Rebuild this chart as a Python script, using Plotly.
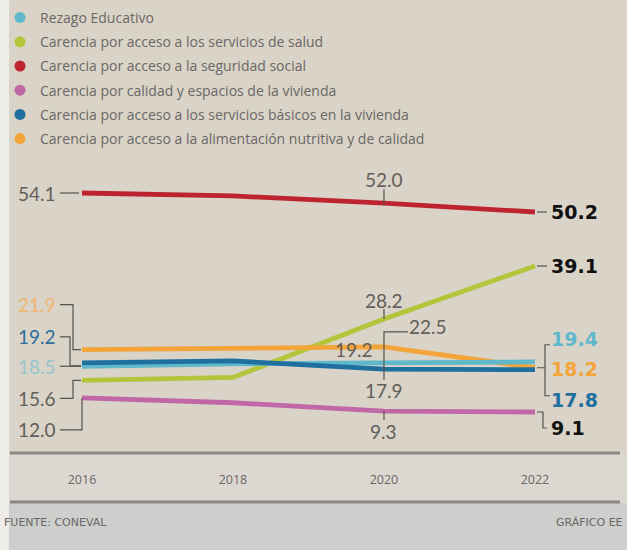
import plotly.graph_objects as go

years = [2016, 2018, 2020, 2022]
series_names = [
    "Rezago Educativo",
    "Carencia por acceso a los servicios de salud",
    "Carencia por acceso a la seguridad social",
    "Carencia por calidad y espacios de la vivienda",
    "Carencia por acceso a los servicios básicos en la vivienda",
    "Carencia por acceso a la alimentación nutritiva y de calidad",
]
rezago = [18.5, 19.0, 19.2, 19.4]
salud = [15.6, 16.2, 28.2, 39.1]
seguridad = [54.1, 53.5, 52.0, 50.2]
calidad = [12.0, 11.0, 9.3, 9.1]
basicos = [19.2, 19.6, 17.9, 17.8]
alimentacion = [21.9, 22.2, 22.5, 18.2]
tick_labels = ["2016", "2018", "2020", "2022"]

colors = ["#5fb9cb", "#b3c53a", "#be2430", "#c067a6", "#1f6f9f", "#f3a53a"]
values = [rezago, salud, seguridad, calidad, basicos, alimentacion]

BG = "#dad3c8"
GRAY = "#625e5a"
FONT = "Lato, 'DejaVu Sans', sans-serif"
WIDE = "'Open Sans', 'DejaVu Sans', sans-serif"
BOLDFONT = "'DejaVu Sans', sans-serif"

W, H = 627.0, 550.0
T, B = 150, 97
PLOT_BOTTOM = H - B

fig = go.Figure()

# draw order: back to front
order = [2, 3, 1, 5, 0, 4]
for i in order:
    fig.add_trace(go.Scatter(x=years, y=values[i], mode="lines",
                             line=dict(color=colors[i], width=4.8),
                             showlegend=False, hoverinfo="skip"))

# legend proxies (dots)
for i, name in enumerate(series_names):
    fig.add_trace(go.Scatter(x=[None], y=[None], mode="markers", name=name,
                             legendgroup=f"g{i}",
                             marker=dict(color=colors[i], size=11)))

ann = []
shapes = []


def label(x, y, text, color, xshift=0, yshift=0, xanchor="center", size=19, bold=False):
    ann.append(dict(x=x, y=y, xref="x", yref="y", text=(f"<b>{text}</b>" if bold else text),
                    showarrow=False, xanchor=xanchor, yanchor="middle",
                    xshift=xshift, yshift=yshift,
                    font=dict(family=(BOLDFONT if bold else FONT), size=size, color=color)))


def bracket(x, y, path):
    shapes.append(dict(type="path", xref="x", yref="y", xsizemode="pixel", ysizemode="pixel",
                       xanchor=x, yanchor=y, path=path,
                       line=dict(color="#55524e", width=1.2), layer="above"))


# 2016 labels (left)
x0 = years[0]
label(x0, seguridad[0], f"{seguridad[0]:.1f}", GRAY, xshift=-24, xanchor="right")
bracket(x0, seguridad[0], "M -22 0 H -3")
label(x0, alimentacion[0], f"{alimentacion[0]:.1f}", "#f0b56e", xshift=-24, yshift=45, xanchor="right")
bracket(x0, alimentacion[0], "M -22 45 H -9 V 0 H -1")
label(x0, basicos[0], f"{basicos[0]:.1f}", "#2d6d97", xshift=-24, yshift=26, xanchor="right")
bracket(x0, basicos[0], "M -22 26 H -12 V -3 H -1")
label(x0, rezago[0], f"{rezago[0]:.1f}", "#94c6cc", xshift=-24, yshift=0, xanchor="right")
bracket(x0, rezago[0], "M -22 0 H -1")
label(x0, salud[0], f"{salud[0]:.1f}", GRAY, xshift=-24, yshift=-18, xanchor="right")
bracket(x0, salud[0], "M -22 -18 H -9 V 0 H -1")
label(x0, calidad[0], f"{calidad[0]:.1f}", GRAY, xshift=-24, yshift=-32, xanchor="right")
bracket(x0, calidad[0], "M -22 -32 H 0 V 0")

# 2020 labels (middle)
x2 = years[2]
label(x2, seguridad[2], f"{seguridad[2]:.1f}", GRAY, yshift=24)
bracket(x2, seguridad[2], "M 0 14 V -2")
label(x2, salud[2], f"{salud[2]:.1f}", GRAY, yshift=19)
bracket(x2, salud[2], "M 0 10 V 0")
label(x2, alimentacion[2], f"{alimentacion[2]:.1f}", GRAY, xshift=44, yshift=20)
bracket(x2, alimentacion[2], "M 24 15 H 0 V -33")
label(x2, rezago[2], f"{rezago[2]:.1f}", GRAY, xshift=-30, yshift=13)
label(x2, basicos[2], f"{basicos[2]:.1f}", GRAY, yshift=-21)
label(x2, calidad[2], f"{calidad[2]:.1f}", GRAY, yshift=-20)
bracket(x2, calidad[2], "M 0 0 V -9")

# 2022 labels (right)
x3 = years[3]
label(x3, seguridad[3], f"{seguridad[3]:.1f}", "#111111", xshift=14, xanchor="left", bold=True)
bracket(x3, seguridad[3], "M 2 0 H 12")
label(x3, salud[3], f"{salud[3]:.1f}", "#111111", xshift=14, xanchor="left", bold=True)
bracket(x3, salud[3], "M 2 0 H 12")
label(x3, rezago[3], f"{rezago[3]:.1f}", "#5fb9cb", xshift=14, yshift=23, xanchor="left", bold=True)
label(x3, alimentacion[3], f"{alimentacion[3]:.1f}", "#f3a53a", xshift=14, yshift=-1, xanchor="left", bold=True)
label(x3, basicos[3], f"{basicos[3]:.1f}", "#1f6f9f", xshift=14, yshift=-30, xanchor="left", bold=True)
bracket(x3, alimentacion[3], "M 15 23 H 10 V -28 H 15 M 2 0 H 10")
label(x3, calidad[3], f"{calidad[3]:.1f}", "#111111", xshift=14, yshift=-16, xanchor="left", bold=True)
bracket(x3, calidad[3], "M 2 0 H 8 V -16 H 12")


def py(p):
    """figure pixel row -> paper y (paper spans the plot area vertically)"""
    return (PLOT_BOTTOM - p) / (PLOT_BOTTOM - T)


def px(p):
    return p / W


# footer texts
ann.append(dict(x=px(2), y=py(522), xref="paper", yref="paper", text="FUENTE: CONEVAL",
                showarrow=False, xanchor="left", yanchor="middle",
                font=dict(family=BOLDFONT, size=11, color="#6a6764")))
ann.append(dict(x=px(625), y=py(522), xref="paper", yref="paper", text="GRÁFICO EE",
                showarrow=False, xanchor="right", yanchor="middle",
                font=dict(family=BOLDFONT, size=11, color="#6a6764")))

bg_shapes = [
    dict(type="rect", xref="paper", yref="paper", x0=0, x1=1, y0=py(H), y1=py(503),
         fillcolor="#cdcfcd", line=dict(width=0), layer="below"),
    dict(type="rect", xref="paper", yref="paper", x0=0, x1=1, y0=py(503), y1=py(454),
         fillcolor="#dcd8d1", line=dict(width=0), layer="below"),
    dict(type="rect", xref="paper", yref="paper", x0=0, x1=px(9), y0=py(H), y1=py(0),
         fillcolor="#eeece8", line=dict(width=0), layer="below"),
    dict(type="line", xref="paper", yref="paper", x0=px(10), x1=px(620), y0=py(453), y1=py(453),
         line=dict(color="#8b8782", width=3), layer="below"),
    dict(type="line", xref="paper", yref="paper", x0=px(10), x1=px(620), y0=py(502), y1=py(502),
         line=dict(color="#8b8782", width=3), layer="below"),
]

fig.update_layout(
    width=627, height=550,
    margin=dict(l=0, r=0, t=T, b=B, autoexpand=False),
    paper_bgcolor=BG, plot_bgcolor="rgba(0,0,0,0)",
    font=dict(family=FONT, color=GRAY),
    xaxis=dict(range=[2014.914, 2023.219], tickvals=years, ticktext=tick_labels,
               showgrid=False, zeroline=False, showline=False, ticks="",
               ticklabelstandoff=17, tickfont=dict(family=WIDE, size=12.5, color="#6a6764")),
    yaxis=dict(range=[0.68, 62.935], visible=False, showgrid=False, zeroline=False),
    showlegend=True,
    legend=dict(x=0.0, y=1 - 2 / 550, xref="container", yref="container",
                xanchor="left", yanchor="top", bgcolor="rgba(0,0,0,0)",
                traceorder="grouped", tracegroupgap=3, itemwidth=30,
                font=dict(family=WIDE, size=14, color="#6a6764")),
    annotations=ann,
    shapes=bg_shapes + shapes,
)

fig.write_html("out.html", config={"displayModeBar": False},
               post_script="document.body.style.margin='0';document.body.style.overflow='hidden';")
